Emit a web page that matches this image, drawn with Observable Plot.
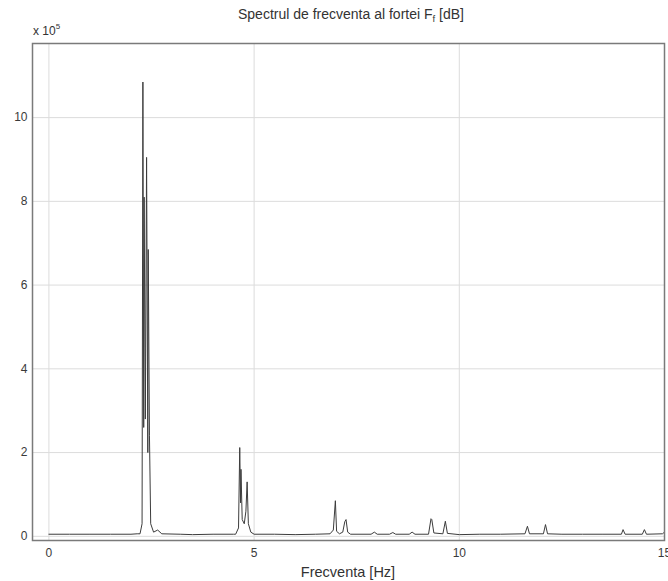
<!DOCTYPE html>
<html>
<head>
<meta charset="utf-8">
<script src="https://cdn.jsdelivr.net/npm/d3@7"></script>
<script src="https://cdn.jsdelivr.net/npm/@observablehq/plot@0.6"></script>
<style>
  html, body { margin: 0; padding: 0; background: #fff; }
  #chart { width: 668px; height: 581px; }
  svg { font-family: "Liberation Sans", Arial, sans-serif; }
</style>
</head>
<body>
<div id="chart"></div>
<script>
// Frequency (Hz)
const freq = [
  0, 0.5, 1.0, 1.5, 2.0, 2.15, 2.22, 2.27,
  2.29, 2.31, 2.32, 2.35, 2.38, 2.41, 2.42, 2.45, 2.48, 2.55, 2.65, 2.75,
  3.2, 3.5, 4.0, 4.5, 4.55, 4.62,
  4.65, 4.67, 4.68, 4.71, 4.76, 4.80, 4.83, 4.86, 4.92,
  5.0, 5.5, 6.0, 6.5, 6.85, 6.93, 6.98, 7.01, 7.08, 7.16, 7.21, 7.24, 7.28, 7.35,
  7.85, 7.93, 8.0, 8.3, 8.38, 8.45, 8.78, 8.85, 8.92,
  9.25, 9.31, 9.33, 9.38, 9.6, 9.66, 9.71,
  10.0, 10.5, 11.0, 11.6, 11.66, 11.71, 12.05, 12.1, 12.15,
  12.5, 13.0, 13.5, 13.95, 13.99, 14.04, 14.46, 14.51, 14.56, 14.95, 15.0
];
// Amplitude (x 10^5)
const amp = [
  0.05, 0.05, 0.05, 0.05, 0.05, 0.06, 0.06, 0.3,
  10.85, 2.6, 8.1, 2.8, 9.05, 2.0, 6.85, 2.4, 0.3, 0.1, 0.15, 0.06,
  0.05, 0.04, 0.05, 0.05, 0.05, 0.2,
  2.12, 0.8, 1.6, 0.4, 0.3, 0.6, 1.3, 0.3, 0.1,
  0.05, 0.05, 0.04, 0.05, 0.06, 0.15, 0.85, 0.12, 0.06, 0.1, 0.35, 0.4, 0.1, 0.05,
  0.05, 0.1, 0.05, 0.05, 0.09, 0.05, 0.05, 0.1, 0.05,
  0.05, 0.42, 0.4, 0.08, 0.06, 0.36, 0.07,
  0.04, 0.05, 0.05, 0.06, 0.24, 0.06, 0.06, 0.28, 0.06,
  0.05, 0.05, 0.05, 0.05, 0.16, 0.05, 0.05, 0.16, 0.05, 0.06, 0.1
];
const xTicks = [0, 5, 10, 15];
const yTicks = [0, 2, 4, 6, 8, 10];
const titleMain = "Spectrul de frecventa al fortei F";
const titleSub = "f";
const titleEnd = " [dB]";
const xLabel = "Frecventa [Hz]";
const yExpBase = "x 10";
const yExp = "5";

const data = freq.map((f, i) => ({f, a: amp[i]}));

const chart = Plot.plot({
  width: 668,
  height: 581,
  marginLeft: 32,
  marginRight: 4,
  marginTop: 43,
  marginBottom: 41,
  style: {fontFamily: "Liberation Sans, Arial, sans-serif", fontSize: "11px", color: "#333", background: "#fff"},
  x: {domain: [-0.4, 15], ticks: xTicks, label: null},
  y: {domain: [-0.1, 11.77], ticks: yTicks, label: null},
  marks: [
    Plot.gridX(xTicks, {stroke: "#dcdcdc", strokeOpacity: 1}),
    Plot.gridY(yTicks, {stroke: "#dcdcdc", strokeOpacity: 1}),
    Plot.axisX(xTicks, {tickSize: 0, tickPadding: 8, fontSize: 12, fill: "#3a3a3a", label: null}),
    Plot.axisY(yTicks, {tickSize: 0, tickPadding: 5, fontSize: 12, fill: "#3a3a3a", label: null}),
    Plot.line(data, {x: "f", y: "a", stroke: "#3c3c3c", strokeWidth: 1}),
    Plot.frame({stroke: "#7a7a7a", strokeWidth: 1.5})
  ]
});

const svg = d3.select(chart);
const t = svg.append("text")
  .attr("x", 351).attr("y", 19)
  .attr("text-anchor", "middle")
  .attr("font-size", 14)
  .attr("fill", "#333");
t.append("tspan").text(titleMain);
t.append("tspan").attr("font-size", 9.5).attr("dy", 3).text(titleSub);
t.append("tspan").attr("dy", -3).text(titleEnd);

const e = svg.append("text")
  .attr("x", 33).attr("y", 35)
  .attr("text-anchor", "start")
  .attr("font-size", 12)
  .attr("fill", "#333");
e.append("tspan").text(yExpBase);
e.append("tspan").attr("font-size", 8).attr("dy", -6).text(yExp);

svg.append("text")
  .attr("x", 348).attr("y", 577)
  .attr("text-anchor", "middle")
  .attr("font-size", 14.5)
  .attr("fill", "#333")
  .text(xLabel);

document.getElementById("chart").appendChild(chart);
</script>
</body>
</html>
